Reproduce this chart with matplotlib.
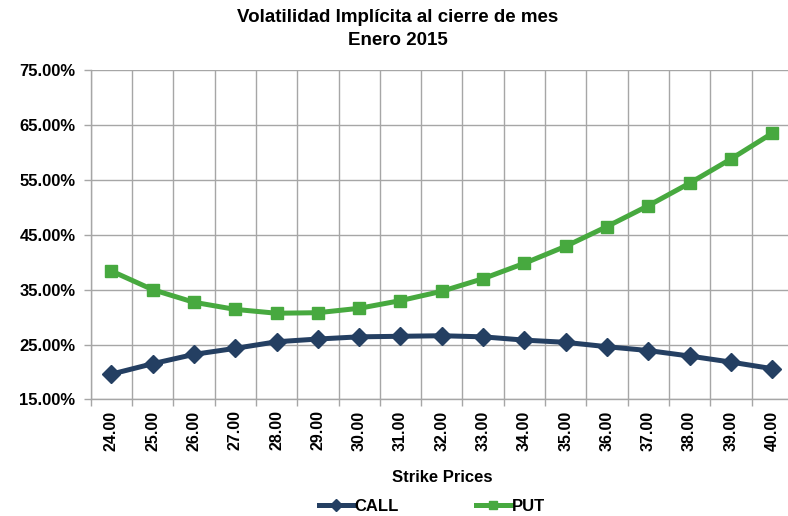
import matplotlib
matplotlib.use("Agg")
import matplotlib.pyplot as plt
from matplotlib.ticker import PercentFormatter, FixedLocator

plt.rcParams['font.family'] = ['Liberation Sans', 'DejaVu Sans']
plt.rcParams['font.weight'] = 'bold'

# datos
strikes = ["24.00", "25.00", "26.00", "27.00", "28.00", "29.00", "30.00", "31.00", "32.00",
           "33.00", "34.00", "35.00", "36.00", "37.00", "38.00", "39.00", "40.00"]
call = [0.196, 0.215, 0.232, 0.243, 0.255, 0.260, 0.264, 0.265, 0.266,
        0.264, 0.258, 0.254, 0.246, 0.239, 0.229, 0.218, 0.206]
put = [0.384, 0.350, 0.327, 0.314, 0.307, 0.308, 0.316, 0.330, 0.347,
       0.370, 0.398, 0.429, 0.465, 0.503, 0.544, 0.588, 0.635]

call_color = '#243F62'
put_color = '#47A93F'
grid_color = '#A6A6A6'

fig = plt.figure(figsize=(7.88, 5.16), dpi=100)
ax = fig.add_axes([0.1151, 0.226, 0.891, 0.638])

x = range(len(strikes))
ax.plot(x, call, color=call_color, lw=3.6, marker='D', markersize=9.5, label='CALL', zorder=3)
ax.plot(x, put, color=put_color, lw=3.6, marker='s', markersize=8.5, label='PUT', zorder=3)

ax.set_xlim(-0.5, len(strikes) - 0.5)
ax.set_ylim(0.15, 0.75)
ax.set_yticks([0.15, 0.25, 0.35, 0.45, 0.55, 0.65, 0.75])
ax.yaxis.set_major_formatter(PercentFormatter(xmax=1, decimals=2))

ax.set_xticks(list(x))
ax.set_xticklabels(strikes, rotation=90, fontsize=11.5, fontweight='bold')
ax.xaxis.set_minor_locator(FixedLocator([i + 0.5 for i in range(-1, len(strikes))]))
ax.tick_params(axis='x', which='major', length=0, pad=8)
ax.tick_params(axis='x', which='minor', length=5, color=grid_color, width=1)
ax.tick_params(axis='y', length=5, color=grid_color, width=1, labelsize=12, pad=6)
for lab in ax.get_yticklabels():
    lab.set_fontweight('bold')

ax.grid(True, which='minor', axis='x', color=grid_color, lw=1)
ax.grid(True, which='major', axis='y', color=grid_color, lw=1)
ax.set_axisbelow(True)
for side in ['top', 'right']:
    ax.spines[side].set_visible(False)
for side in ['left', 'bottom']:
    ax.spines[side].set_color(grid_color)
    ax.spines[side].set_linewidth(1)

ax.set_xlabel('Strike Prices', fontsize=12, fontweight='bold', labelpad=14)

fig.suptitle('Volatilidad Implícita al cierre de mes\nEnero 2015', x=0.505, y=0.982,
             fontsize=13.5, fontweight='bold', linespacing=1.45)

fig.legend(loc='center', bbox_to_anchor=(0.548, 0.018), ncol=2, frameon=False,
           fontsize=12, handlelength=2.1, handletextpad=0.05, columnspacing=4.6,
           markerscale=0.6, borderpad=0)

fig.savefig('out.png', dpi=100)
